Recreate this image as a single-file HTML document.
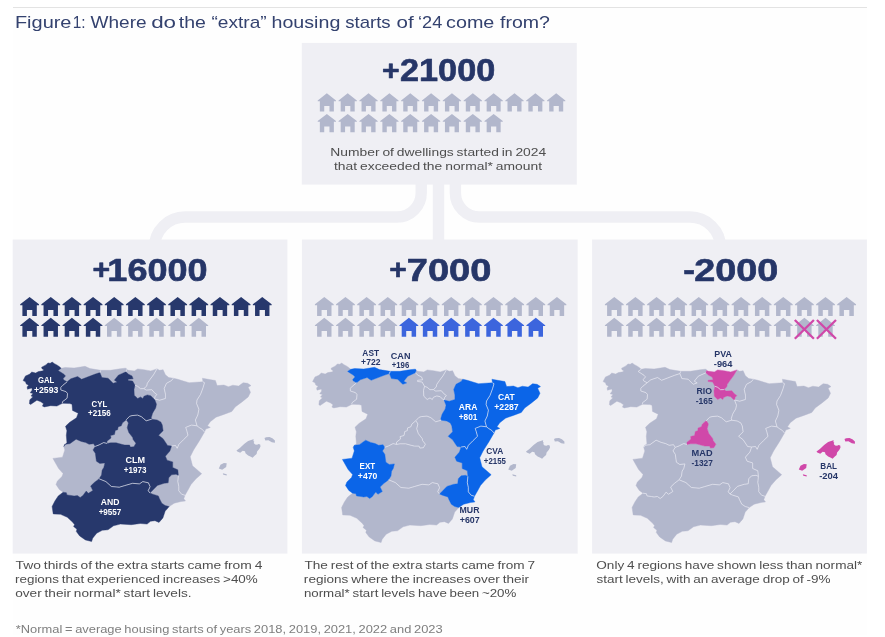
<!DOCTYPE html>
<html lang="en"><head><meta charset="utf-8"><title>Figure 1</title>
<style>
html,body{margin:0;padding:0;background:#fff;}
svg{display:block;font-family:"Liberation Sans",sans-serif;}
</style></head><body>
<svg width="885" height="637" viewBox="0 0 885 637">
<rect x="13" y="8" width="854" height="627" fill="#fefefe"/>
<rect x="13" y="7" width="854" height="1" fill="#e3e3e3"/>
<g fill="none" stroke="#efeff4" stroke-width="11.4">
<path d="M438.5,184 V241"/>
<path d="M421.2,184 V193 A24 24 0 0 1 397.2,217 H185 A30.5 30.5 0 0 0 154.5,247.5"/>
<path d="M455.4,184 V193 A24 24 0 0 0 479.4,217 H690 A30.5 30.5 0 0 1 720.5,247.5"/>
</g>
<rect x="301.8" y="42.9" width="275" height="141.7" fill="#efeff4"/>
<rect x="12.7" y="239.5" width="274.7" height="314.1" fill="#efeff4"/>
<rect x="301.9" y="239.5" width="275.8" height="314.1" fill="#efeff4"/>
<rect x="592.1" y="239.5" width="274.8" height="314.1" fill="#efeff4"/>
<text y="27.60" font-size="17.00" font-weight="normal" fill="#34426f"><tspan x="14.95" y="27.60" textLength="56.53" lengthAdjust="spacingAndGlyphs">Figure</tspan> <tspan x="72.64" y="27.60" textLength="12.87" lengthAdjust="spacingAndGlyphs">1:</tspan> <tspan x="90.60" y="27.60" textLength="56.01" lengthAdjust="spacingAndGlyphs">Where</tspan> <tspan x="151.15" y="27.60" textLength="24.90" lengthAdjust="spacingAndGlyphs">do</tspan> <tspan x="178.81" y="27.60" textLength="27.13" lengthAdjust="spacingAndGlyphs">the</tspan> <tspan x="211.48" y="27.60" textLength="55.22" lengthAdjust="spacingAndGlyphs">“extra”</tspan> <tspan x="271.52" y="27.60" textLength="68.81" lengthAdjust="spacingAndGlyphs">housing</tspan> <tspan x="345.19" y="27.60" textLength="45.46" lengthAdjust="spacingAndGlyphs">starts</tspan> <tspan x="396.63" y="27.60" textLength="17.15" lengthAdjust="spacingAndGlyphs">of</tspan> <tspan x="418.07" y="27.60" textLength="24.17" lengthAdjust="spacingAndGlyphs">‘24</tspan> <tspan x="446.06" y="27.60" textLength="48.29" lengthAdjust="spacingAndGlyphs">come</tspan> <tspan x="500.01" y="27.60" textLength="49.90" lengthAdjust="spacingAndGlyphs">from?</tspan></text>
<text y="81.30" font-size="31.20" font-weight="bold" fill="#263668" stroke="#263668" stroke-width="0.60" stroke-linejoin="round"><tspan x="382.12" y="79.60" font-size="28.50" textLength="17.64" lengthAdjust="spacingAndGlyphs">+</tspan><tspan x="400.00" y="81.30" textLength="95.30" lengthAdjust="spacingAndGlyphs">21000</tspan></text>
<text y="281.10" font-size="31.20" font-weight="bold" fill="#263668" stroke="#263668" stroke-width="0.60" stroke-linejoin="round"><tspan x="92.62" y="279.40" font-size="28.50" textLength="17.64" lengthAdjust="spacingAndGlyphs">+</tspan><tspan x="107.35" y="281.10" textLength="100.23" lengthAdjust="spacingAndGlyphs">16000</tspan></text>
<text y="281.10" font-size="31.20" font-weight="bold" fill="#263668" stroke="#263668" stroke-width="0.60" stroke-linejoin="round"><tspan x="389.33" y="279.40" font-size="28.50" textLength="17.52" lengthAdjust="spacingAndGlyphs">+</tspan><tspan x="406.78" y="281.10" textLength="84.62" lengthAdjust="spacingAndGlyphs">7000</tspan></text>
<text y="281.10" font-size="31.20" font-weight="bold" fill="#263668" stroke="#263668" stroke-width="0.60" stroke-linejoin="round"><tspan x="683.39" y="280.20" textLength="11.74" lengthAdjust="spacingAndGlyphs">-</tspan><tspan x="694.28" y="281.10" textLength="84.12" lengthAdjust="spacingAndGlyphs">2000</tspan></text>
<text x="330.36" y="155.90" font-size="11.20" font-weight="normal" fill="#4e4e4e" word-spacing="-0.78" textLength="215.84" lengthAdjust="spacingAndGlyphs">Number of dwellings started in 2024</text>
<text x="333.99" y="169.80" font-size="11.20" font-weight="normal" fill="#4e4e4e" word-spacing="-0.78" textLength="208.12" lengthAdjust="spacingAndGlyphs">that exceeded the normal* amount</text>
<polygon points="317.70,100.38 326.85,93.20 336.00,100.38 336.00,101.17 333.86,101.17 333.86,111.60 329.48,111.60 329.48,105.89 324.22,105.89 324.22,111.60 319.84,111.60 319.84,101.17 317.70,101.17" fill="#b2b7cc"/>
<polygon points="338.55,100.38 347.70,93.20 356.85,100.38 356.85,101.17 354.71,101.17 354.71,111.60 350.33,111.60 350.33,105.89 345.07,105.89 345.07,111.60 340.69,111.60 340.69,101.17 338.55,101.17" fill="#b2b7cc"/>
<polygon points="359.40,100.38 368.55,93.20 377.70,100.38 377.70,101.17 375.56,101.17 375.56,111.60 371.18,111.60 371.18,105.89 365.92,105.89 365.92,111.60 361.54,111.60 361.54,101.17 359.40,101.17" fill="#b2b7cc"/>
<polygon points="380.25,100.38 389.40,93.20 398.55,100.38 398.55,101.17 396.41,101.17 396.41,111.60 392.03,111.60 392.03,105.89 386.77,105.89 386.77,111.60 382.39,111.60 382.39,101.17 380.25,101.17" fill="#b2b7cc"/>
<polygon points="401.10,100.38 410.25,93.20 419.40,100.38 419.40,101.17 417.26,101.17 417.26,111.60 412.88,111.60 412.88,105.89 407.62,105.89 407.62,111.60 403.24,111.60 403.24,101.17 401.10,101.17" fill="#b2b7cc"/>
<polygon points="421.95,100.38 431.10,93.20 440.25,100.38 440.25,101.17 438.11,101.17 438.11,111.60 433.73,111.60 433.73,105.89 428.47,105.89 428.47,111.60 424.09,111.60 424.09,101.17 421.95,101.17" fill="#b2b7cc"/>
<polygon points="442.80,100.38 451.95,93.20 461.10,100.38 461.10,101.17 458.96,101.17 458.96,111.60 454.58,111.60 454.58,105.89 449.32,105.89 449.32,111.60 444.94,111.60 444.94,101.17 442.80,101.17" fill="#b2b7cc"/>
<polygon points="463.65,100.38 472.80,93.20 481.95,100.38 481.95,101.17 479.81,101.17 479.81,111.60 475.43,111.60 475.43,105.89 470.17,105.89 470.17,111.60 465.79,111.60 465.79,101.17 463.65,101.17" fill="#b2b7cc"/>
<polygon points="484.50,100.38 493.65,93.20 502.80,100.38 502.80,101.17 500.66,101.17 500.66,111.60 496.28,111.60 496.28,105.89 491.02,105.89 491.02,111.60 486.64,111.60 486.64,101.17 484.50,101.17" fill="#b2b7cc"/>
<polygon points="505.35,100.38 514.50,93.20 523.65,100.38 523.65,101.17 521.51,101.17 521.51,111.60 517.13,111.60 517.13,105.89 511.87,105.89 511.87,111.60 507.49,111.60 507.49,101.17 505.35,101.17" fill="#b2b7cc"/>
<polygon points="526.20,100.38 535.35,93.20 544.50,100.38 544.50,101.17 542.36,101.17 542.36,111.60 537.98,111.60 537.98,105.89 532.72,105.89 532.72,111.60 528.34,111.60 528.34,101.17 526.20,101.17" fill="#b2b7cc"/>
<polygon points="547.05,100.38 556.20,93.20 565.35,100.38 565.35,101.17 563.21,101.17 563.21,111.60 558.83,111.60 558.83,105.89 553.57,105.89 553.57,111.60 549.19,111.60 549.19,101.17 547.05,101.17" fill="#b2b7cc"/>
<polygon points="317.70,121.08 326.85,113.90 336.00,121.08 336.00,121.87 333.86,121.87 333.86,132.30 329.48,132.30 329.48,126.59 324.22,126.59 324.22,132.30 319.84,132.30 319.84,121.87 317.70,121.87" fill="#b2b7cc"/>
<polygon points="338.55,121.08 347.70,113.90 356.85,121.08 356.85,121.87 354.71,121.87 354.71,132.30 350.33,132.30 350.33,126.59 345.07,126.59 345.07,132.30 340.69,132.30 340.69,121.87 338.55,121.87" fill="#b2b7cc"/>
<polygon points="359.40,121.08 368.55,113.90 377.70,121.08 377.70,121.87 375.56,121.87 375.56,132.30 371.18,132.30 371.18,126.59 365.92,126.59 365.92,132.30 361.54,132.30 361.54,121.87 359.40,121.87" fill="#b2b7cc"/>
<polygon points="380.25,121.08 389.40,113.90 398.55,121.08 398.55,121.87 396.41,121.87 396.41,132.30 392.03,132.30 392.03,126.59 386.77,126.59 386.77,132.30 382.39,132.30 382.39,121.87 380.25,121.87" fill="#b2b7cc"/>
<polygon points="401.10,121.08 410.25,113.90 419.40,121.08 419.40,121.87 417.26,121.87 417.26,132.30 412.88,132.30 412.88,126.59 407.62,126.59 407.62,132.30 403.24,132.30 403.24,121.87 401.10,121.87" fill="#b2b7cc"/>
<polygon points="421.95,121.08 431.10,113.90 440.25,121.08 440.25,121.87 438.11,121.87 438.11,132.30 433.73,132.30 433.73,126.59 428.47,126.59 428.47,132.30 424.09,132.30 424.09,121.87 421.95,121.87" fill="#b2b7cc"/>
<polygon points="442.80,121.08 451.95,113.90 461.10,121.08 461.10,121.87 458.96,121.87 458.96,132.30 454.58,132.30 454.58,126.59 449.32,126.59 449.32,132.30 444.94,132.30 444.94,121.87 442.80,121.87" fill="#b2b7cc"/>
<polygon points="463.65,121.08 472.80,113.90 481.95,121.08 481.95,121.87 479.81,121.87 479.81,132.30 475.43,132.30 475.43,126.59 470.17,126.59 470.17,132.30 465.79,132.30 465.79,121.87 463.65,121.87" fill="#b2b7cc"/>
<polygon points="484.50,121.08 493.65,113.90 502.80,121.08 502.80,121.87 500.66,121.87 500.66,132.30 496.28,132.30 496.28,126.59 491.02,126.59 491.02,132.30 486.64,132.30 486.64,121.87 484.50,121.87" fill="#b2b7cc"/>
<polygon points="20.20,304.32 29.60,296.90 39.00,304.32 39.00,305.13 36.80,305.13 36.80,315.90 32.30,315.90 32.30,310.01 26.90,310.01 26.90,315.90 22.40,315.90 22.40,305.13 20.20,305.13" fill="#27386c"/>
<polygon points="41.35,304.32 50.75,296.90 60.15,304.32 60.15,305.13 57.95,305.13 57.95,315.90 53.45,315.90 53.45,310.01 48.05,310.01 48.05,315.90 43.55,315.90 43.55,305.13 41.35,305.13" fill="#27386c"/>
<polygon points="62.50,304.32 71.90,296.90 81.30,304.32 81.30,305.13 79.10,305.13 79.10,315.90 74.60,315.90 74.60,310.01 69.20,310.01 69.20,315.90 64.70,315.90 64.70,305.13 62.50,305.13" fill="#27386c"/>
<polygon points="83.65,304.32 93.05,296.90 102.45,304.32 102.45,305.13 100.25,305.13 100.25,315.90 95.75,315.90 95.75,310.01 90.35,310.01 90.35,315.90 85.85,315.90 85.85,305.13 83.65,305.13" fill="#27386c"/>
<polygon points="104.80,304.32 114.20,296.90 123.60,304.32 123.60,305.13 121.40,305.13 121.40,315.90 116.90,315.90 116.90,310.01 111.50,310.01 111.50,315.90 107.00,315.90 107.00,305.13 104.80,305.13" fill="#27386c"/>
<polygon points="125.95,304.32 135.35,296.90 144.75,304.32 144.75,305.13 142.55,305.13 142.55,315.90 138.05,315.90 138.05,310.01 132.65,310.01 132.65,315.90 128.15,315.90 128.15,305.13 125.95,305.13" fill="#27386c"/>
<polygon points="147.10,304.32 156.50,296.90 165.90,304.32 165.90,305.13 163.70,305.13 163.70,315.90 159.20,315.90 159.20,310.01 153.80,310.01 153.80,315.90 149.30,315.90 149.30,305.13 147.10,305.13" fill="#27386c"/>
<polygon points="168.25,304.32 177.65,296.90 187.05,304.32 187.05,305.13 184.85,305.13 184.85,315.90 180.35,315.90 180.35,310.01 174.95,310.01 174.95,315.90 170.45,315.90 170.45,305.13 168.25,305.13" fill="#27386c"/>
<polygon points="189.40,304.32 198.80,296.90 208.20,304.32 208.20,305.13 206.00,305.13 206.00,315.90 201.50,315.90 201.50,310.01 196.10,310.01 196.10,315.90 191.60,315.90 191.60,305.13 189.40,305.13" fill="#27386c"/>
<polygon points="210.55,304.32 219.95,296.90 229.35,304.32 229.35,305.13 227.15,305.13 227.15,315.90 222.65,315.90 222.65,310.01 217.25,310.01 217.25,315.90 212.75,315.90 212.75,305.13 210.55,305.13" fill="#27386c"/>
<polygon points="231.70,304.32 241.10,296.90 250.50,304.32 250.50,305.13 248.30,305.13 248.30,315.90 243.80,315.90 243.80,310.01 238.40,310.01 238.40,315.90 233.90,315.90 233.90,305.13 231.70,305.13" fill="#27386c"/>
<polygon points="252.85,304.32 262.25,296.90 271.65,304.32 271.65,305.13 269.45,305.13 269.45,315.90 264.95,315.90 264.95,310.01 259.55,310.01 259.55,315.90 255.05,315.90 255.05,305.13 252.85,305.13" fill="#27386c"/>
<polygon points="20.20,325.22 29.60,317.80 39.00,325.22 39.00,326.03 36.80,326.03 36.80,336.80 32.30,336.80 32.30,330.91 26.90,330.91 26.90,336.80 22.40,336.80 22.40,326.03 20.20,326.03" fill="#27386c"/>
<polygon points="41.35,325.22 50.75,317.80 60.15,325.22 60.15,326.03 57.95,326.03 57.95,336.80 53.45,336.80 53.45,330.91 48.05,330.91 48.05,336.80 43.55,336.80 43.55,326.03 41.35,326.03" fill="#27386c"/>
<polygon points="62.50,325.22 71.90,317.80 81.30,325.22 81.30,326.03 79.10,326.03 79.10,336.80 74.60,336.80 74.60,330.91 69.20,330.91 69.20,336.80 64.70,336.80 64.70,326.03 62.50,326.03" fill="#27386c"/>
<polygon points="83.65,325.22 93.05,317.80 102.45,325.22 102.45,326.03 100.25,326.03 100.25,336.80 95.75,336.80 95.75,330.91 90.35,330.91 90.35,336.80 85.85,336.80 85.85,326.03 83.65,326.03" fill="#27386c"/>
<polygon points="104.80,325.22 114.20,317.80 123.60,325.22 123.60,326.03 121.40,326.03 121.40,336.80 116.90,336.80 116.90,330.91 111.50,330.91 111.50,336.80 107.00,336.80 107.00,326.03 104.80,326.03" fill="#b2b7cc"/>
<polygon points="125.95,325.22 135.35,317.80 144.75,325.22 144.75,326.03 142.55,326.03 142.55,336.80 138.05,336.80 138.05,330.91 132.65,330.91 132.65,336.80 128.15,336.80 128.15,326.03 125.95,326.03" fill="#b2b7cc"/>
<polygon points="147.10,325.22 156.50,317.80 165.90,325.22 165.90,326.03 163.70,326.03 163.70,336.80 159.20,336.80 159.20,330.91 153.80,330.91 153.80,336.80 149.30,336.80 149.30,326.03 147.10,326.03" fill="#b2b7cc"/>
<polygon points="168.25,325.22 177.65,317.80 187.05,325.22 187.05,326.03 184.85,326.03 184.85,336.80 180.35,336.80 180.35,330.91 174.95,330.91 174.95,336.80 170.45,336.80 170.45,326.03 168.25,326.03" fill="#b2b7cc"/>
<polygon points="189.40,325.22 198.80,317.80 208.20,325.22 208.20,326.03 206.00,326.03 206.00,336.80 201.50,336.80 201.50,330.91 196.10,330.91 196.10,336.80 191.60,336.80 191.60,326.03 189.40,326.03" fill="#b2b7cc"/>
<polygon points="314.90,304.32 324.30,296.90 333.70,304.32 333.70,305.13 331.50,305.13 331.50,315.90 327.00,315.90 327.00,310.01 321.60,310.01 321.60,315.90 317.10,315.90 317.10,305.13 314.90,305.13" fill="#b2b7cc"/>
<polygon points="336.05,304.32 345.45,296.90 354.85,304.32 354.85,305.13 352.65,305.13 352.65,315.90 348.15,315.90 348.15,310.01 342.75,310.01 342.75,315.90 338.25,315.90 338.25,305.13 336.05,305.13" fill="#b2b7cc"/>
<polygon points="357.20,304.32 366.60,296.90 376.00,304.32 376.00,305.13 373.80,305.13 373.80,315.90 369.30,315.90 369.30,310.01 363.90,310.01 363.90,315.90 359.40,315.90 359.40,305.13 357.20,305.13" fill="#b2b7cc"/>
<polygon points="378.35,304.32 387.75,296.90 397.15,304.32 397.15,305.13 394.95,305.13 394.95,315.90 390.45,315.90 390.45,310.01 385.05,310.01 385.05,315.90 380.55,315.90 380.55,305.13 378.35,305.13" fill="#b2b7cc"/>
<polygon points="399.50,304.32 408.90,296.90 418.30,304.32 418.30,305.13 416.10,305.13 416.10,315.90 411.60,315.90 411.60,310.01 406.20,310.01 406.20,315.90 401.70,315.90 401.70,305.13 399.50,305.13" fill="#b2b7cc"/>
<polygon points="420.65,304.32 430.05,296.90 439.45,304.32 439.45,305.13 437.25,305.13 437.25,315.90 432.75,315.90 432.75,310.01 427.35,310.01 427.35,315.90 422.85,315.90 422.85,305.13 420.65,305.13" fill="#b2b7cc"/>
<polygon points="441.80,304.32 451.20,296.90 460.60,304.32 460.60,305.13 458.40,305.13 458.40,315.90 453.90,315.90 453.90,310.01 448.50,310.01 448.50,315.90 444.00,315.90 444.00,305.13 441.80,305.13" fill="#b2b7cc"/>
<polygon points="462.95,304.32 472.35,296.90 481.75,304.32 481.75,305.13 479.55,305.13 479.55,315.90 475.05,315.90 475.05,310.01 469.65,310.01 469.65,315.90 465.15,315.90 465.15,305.13 462.95,305.13" fill="#b2b7cc"/>
<polygon points="484.10,304.32 493.50,296.90 502.90,304.32 502.90,305.13 500.70,305.13 500.70,315.90 496.20,315.90 496.20,310.01 490.80,310.01 490.80,315.90 486.30,315.90 486.30,305.13 484.10,305.13" fill="#b2b7cc"/>
<polygon points="505.25,304.32 514.65,296.90 524.05,304.32 524.05,305.13 521.85,305.13 521.85,315.90 517.35,315.90 517.35,310.01 511.95,310.01 511.95,315.90 507.45,315.90 507.45,305.13 505.25,305.13" fill="#b2b7cc"/>
<polygon points="526.40,304.32 535.80,296.90 545.20,304.32 545.20,305.13 543.00,305.13 543.00,315.90 538.50,315.90 538.50,310.01 533.10,310.01 533.10,315.90 528.60,315.90 528.60,305.13 526.40,305.13" fill="#b2b7cc"/>
<polygon points="547.55,304.32 556.95,296.90 566.35,304.32 566.35,305.13 564.15,305.13 564.15,315.90 559.65,315.90 559.65,310.01 554.25,310.01 554.25,315.90 549.75,315.90 549.75,305.13 547.55,305.13" fill="#b2b7cc"/>
<polygon points="314.90,325.22 324.30,317.80 333.70,325.22 333.70,326.03 331.50,326.03 331.50,336.80 327.00,336.80 327.00,330.91 321.60,330.91 321.60,336.80 317.10,336.80 317.10,326.03 314.90,326.03" fill="#b2b7cc"/>
<polygon points="336.05,325.22 345.45,317.80 354.85,325.22 354.85,326.03 352.65,326.03 352.65,336.80 348.15,336.80 348.15,330.91 342.75,330.91 342.75,336.80 338.25,336.80 338.25,326.03 336.05,326.03" fill="#b2b7cc"/>
<polygon points="357.20,325.22 366.60,317.80 376.00,325.22 376.00,326.03 373.80,326.03 373.80,336.80 369.30,336.80 369.30,330.91 363.90,330.91 363.90,336.80 359.40,336.80 359.40,326.03 357.20,326.03" fill="#b2b7cc"/>
<polygon points="378.35,325.22 387.75,317.80 397.15,325.22 397.15,326.03 394.95,326.03 394.95,336.80 390.45,336.80 390.45,330.91 385.05,330.91 385.05,336.80 380.55,336.80 380.55,326.03 378.35,326.03" fill="#b2b7cc"/>
<polygon points="399.50,325.22 408.90,317.80 418.30,325.22 418.30,326.03 416.10,326.03 416.10,336.80 411.60,336.80 411.60,330.91 406.20,330.91 406.20,336.80 401.70,336.80 401.70,326.03 399.50,326.03" fill="#3c65dd"/>
<polygon points="420.65,325.22 430.05,317.80 439.45,325.22 439.45,326.03 437.25,326.03 437.25,336.80 432.75,336.80 432.75,330.91 427.35,330.91 427.35,336.80 422.85,336.80 422.85,326.03 420.65,326.03" fill="#3c65dd"/>
<polygon points="441.80,325.22 451.20,317.80 460.60,325.22 460.60,326.03 458.40,326.03 458.40,336.80 453.90,336.80 453.90,330.91 448.50,330.91 448.50,336.80 444.00,336.80 444.00,326.03 441.80,326.03" fill="#3c65dd"/>
<polygon points="462.95,325.22 472.35,317.80 481.75,325.22 481.75,326.03 479.55,326.03 479.55,336.80 475.05,336.80 475.05,330.91 469.65,330.91 469.65,336.80 465.15,336.80 465.15,326.03 462.95,326.03" fill="#3c65dd"/>
<polygon points="484.10,325.22 493.50,317.80 502.90,325.22 502.90,326.03 500.70,326.03 500.70,336.80 496.20,336.80 496.20,330.91 490.80,330.91 490.80,336.80 486.30,336.80 486.30,326.03 484.10,326.03" fill="#3c65dd"/>
<polygon points="505.25,325.22 514.65,317.80 524.05,325.22 524.05,326.03 521.85,326.03 521.85,336.80 517.35,336.80 517.35,330.91 511.95,330.91 511.95,336.80 507.45,336.80 507.45,326.03 505.25,326.03" fill="#3c65dd"/>
<polygon points="526.40,325.22 535.80,317.80 545.20,325.22 545.20,326.03 543.00,326.03 543.00,336.80 538.50,336.80 538.50,330.91 533.10,330.91 533.10,336.80 528.60,336.80 528.60,326.03 526.40,326.03" fill="#3c65dd"/>
<polygon points="604.90,304.32 614.30,296.90 623.70,304.32 623.70,305.13 621.50,305.13 621.50,315.90 617.00,315.90 617.00,310.01 611.60,310.01 611.60,315.90 607.10,315.90 607.10,305.13 604.90,305.13" fill="#b2b7cc"/>
<polygon points="626.02,304.32 635.42,296.90 644.82,304.32 644.82,305.13 642.62,305.13 642.62,315.90 638.12,315.90 638.12,310.01 632.72,310.01 632.72,315.90 628.22,315.90 628.22,305.13 626.02,305.13" fill="#b2b7cc"/>
<polygon points="647.14,304.32 656.54,296.90 665.94,304.32 665.94,305.13 663.74,305.13 663.74,315.90 659.24,315.90 659.24,310.01 653.84,310.01 653.84,315.90 649.34,315.90 649.34,305.13 647.14,305.13" fill="#b2b7cc"/>
<polygon points="668.26,304.32 677.66,296.90 687.06,304.32 687.06,305.13 684.86,305.13 684.86,315.90 680.36,315.90 680.36,310.01 674.96,310.01 674.96,315.90 670.46,315.90 670.46,305.13 668.26,305.13" fill="#b2b7cc"/>
<polygon points="689.38,304.32 698.78,296.90 708.18,304.32 708.18,305.13 705.98,305.13 705.98,315.90 701.48,315.90 701.48,310.01 696.08,310.01 696.08,315.90 691.58,315.90 691.58,305.13 689.38,305.13" fill="#b2b7cc"/>
<polygon points="710.50,304.32 719.90,296.90 729.30,304.32 729.30,305.13 727.10,305.13 727.10,315.90 722.60,315.90 722.60,310.01 717.20,310.01 717.20,315.90 712.70,315.90 712.70,305.13 710.50,305.13" fill="#b2b7cc"/>
<polygon points="731.62,304.32 741.02,296.90 750.42,304.32 750.42,305.13 748.22,305.13 748.22,315.90 743.72,315.90 743.72,310.01 738.32,310.01 738.32,315.90 733.82,315.90 733.82,305.13 731.62,305.13" fill="#b2b7cc"/>
<polygon points="752.74,304.32 762.14,296.90 771.54,304.32 771.54,305.13 769.34,305.13 769.34,315.90 764.84,315.90 764.84,310.01 759.44,310.01 759.44,315.90 754.94,315.90 754.94,305.13 752.74,305.13" fill="#b2b7cc"/>
<polygon points="773.86,304.32 783.26,296.90 792.66,304.32 792.66,305.13 790.46,305.13 790.46,315.90 785.96,315.90 785.96,310.01 780.56,310.01 780.56,315.90 776.06,315.90 776.06,305.13 773.86,305.13" fill="#b2b7cc"/>
<polygon points="794.98,304.32 804.38,296.90 813.78,304.32 813.78,305.13 811.58,305.13 811.58,315.90 807.08,315.90 807.08,310.01 801.68,310.01 801.68,315.90 797.18,315.90 797.18,305.13 794.98,305.13" fill="#b2b7cc"/>
<polygon points="816.10,304.32 825.50,296.90 834.90,304.32 834.90,305.13 832.70,305.13 832.70,315.90 828.20,315.90 828.20,310.01 822.80,310.01 822.80,315.90 818.30,315.90 818.30,305.13 816.10,305.13" fill="#b2b7cc"/>
<polygon points="837.22,304.32 846.62,296.90 856.02,304.32 856.02,305.13 853.82,305.13 853.82,315.90 849.32,315.90 849.32,310.01 843.92,310.01 843.92,315.90 839.42,315.90 839.42,305.13 837.22,305.13" fill="#b2b7cc"/>
<polygon points="604.90,325.22 614.30,317.80 623.70,325.22 623.70,326.03 621.50,326.03 621.50,336.80 617.00,336.80 617.00,330.91 611.60,330.91 611.60,336.80 607.10,336.80 607.10,326.03 604.90,326.03" fill="#b2b7cc"/>
<polygon points="626.02,325.22 635.42,317.80 644.82,325.22 644.82,326.03 642.62,326.03 642.62,336.80 638.12,336.80 638.12,330.91 632.72,330.91 632.72,336.80 628.22,336.80 628.22,326.03 626.02,326.03" fill="#b2b7cc"/>
<polygon points="647.14,325.22 656.54,317.80 665.94,325.22 665.94,326.03 663.74,326.03 663.74,336.80 659.24,336.80 659.24,330.91 653.84,330.91 653.84,336.80 649.34,336.80 649.34,326.03 647.14,326.03" fill="#b2b7cc"/>
<polygon points="668.26,325.22 677.66,317.80 687.06,325.22 687.06,326.03 684.86,326.03 684.86,336.80 680.36,336.80 680.36,330.91 674.96,330.91 674.96,336.80 670.46,336.80 670.46,326.03 668.26,326.03" fill="#b2b7cc"/>
<polygon points="689.38,325.22 698.78,317.80 708.18,325.22 708.18,326.03 705.98,326.03 705.98,336.80 701.48,336.80 701.48,330.91 696.08,330.91 696.08,336.80 691.58,336.80 691.58,326.03 689.38,326.03" fill="#b2b7cc"/>
<polygon points="710.50,325.22 719.90,317.80 729.30,325.22 729.30,326.03 727.10,326.03 727.10,336.80 722.60,336.80 722.60,330.91 717.20,330.91 717.20,336.80 712.70,336.80 712.70,326.03 710.50,326.03" fill="#b2b7cc"/>
<polygon points="731.62,325.22 741.02,317.80 750.42,325.22 750.42,326.03 748.22,326.03 748.22,336.80 743.72,336.80 743.72,330.91 738.32,330.91 738.32,336.80 733.82,336.80 733.82,326.03 731.62,326.03" fill="#b2b7cc"/>
<polygon points="752.74,325.22 762.14,317.80 771.54,325.22 771.54,326.03 769.34,326.03 769.34,336.80 764.84,336.80 764.84,330.91 759.44,330.91 759.44,336.80 754.94,336.80 754.94,326.03 752.74,326.03" fill="#b2b7cc"/>
<polygon points="773.86,325.22 783.26,317.80 792.66,325.22 792.66,326.03 790.46,326.03 790.46,336.80 785.96,336.80 785.96,330.91 780.56,330.91 780.56,336.80 776.06,336.80 776.06,326.03 773.86,326.03" fill="#b2b7cc"/>
<polygon points="794.98,325.22 804.38,317.80 813.78,325.22 813.78,326.03 811.58,326.03 811.58,336.80 807.08,336.80 807.08,330.91 801.68,330.91 801.68,336.80 797.18,336.80 797.18,326.03 794.98,326.03" fill="#b2b7cc"/>
<polygon points="816.10,325.22 825.50,317.80 834.90,325.22 834.90,326.03 832.70,326.03 832.70,336.80 828.20,336.80 828.20,330.91 822.80,330.91 822.80,336.80 818.30,336.80 818.30,326.03 816.10,326.03" fill="#b2b7cc"/>
<path d="M794.8,320.0 L813.9,338.7 M813.9,320.0 L794.8,338.7" stroke="#d048a9" stroke-width="2.3" fill="none"/>
<path d="M816.9,320.0 L836.0,338.7 M836.0,320.0 L816.9,338.7" stroke="#d048a9" stroke-width="2.3" fill="none"/>
<g transform="translate(20.0,359.0)">
<path d="M41.2,9.3 L45.2,8.5 L54.2,9.0 L65.0,7.3 L70.0,9.6 L80.8,11.3 L79.9,13.6 L74.6,15.3 L61.6,20.3 L57.6,17.5 L50.8,19.8 L47.1,22.8 L43.6,20.8 L43.2,19.6 L45.5,16.9 L44.0,15.3 L38.1,11.4Z" fill="#b2b7cc" stroke="#b2b7cc" stroke-width="0.4"/>
<path d="M80.8,11.3 L90.4,11.3 L100.0,9.8 L105.0,9.2 L106.2,9.3 L106.6,10.6 L105.9,12.8 L98.3,16.2 L94.3,21.2 L97.2,22.9 L93.2,24.3 L88.1,19.2 L81.9,18.6 L79.9,13.6Z" fill="#b2b7cc" stroke="#b2b7cc" stroke-width="0.4"/>
<path d="M106.6,10.6 L108.6,11.3 L114.3,11.9 L117.7,9.9 L123.9,10.7 L130.7,11.9 L136.9,9.9 L133.5,15.8 L130.1,20.3 L127.3,24.3 L126.7,27.1 L123.9,29.6 L120.5,29.7 L117.7,27.3 L115.0,26.3 L112.6,22.0 L108.1,21.5 L108.1,20.3 L113.2,19.8 L112.0,16.9 L108.6,15.3 L105.9,12.8Z" fill="#b2b7cc" stroke="#b2b7cc" stroke-width="0.4"/>
<path d="M123.9,29.6 L126.2,31.1 L131.8,30.7 L134.6,33.9 L136.9,35.6 L135.2,37.3 L134.5,40.0 L133.5,39.5 L130.7,36.7 L127.3,35.9 L123.9,37.3 L122.8,39.5 L120.5,37.9 L117.7,39.5 L114.3,36.2 L114.0,30.5 L115.0,26.3 L117.7,27.3 L120.5,29.7Z" fill="#b2b7cc" stroke="#b2b7cc" stroke-width="0.4"/>
<path d="M136.9,9.9 L139.7,11.3 L143.1,10.7 L145.4,15.8 L148.8,18.6 L153.3,19.2 L151.6,21.5 L146.5,24.3 L144.2,29.4 L145.4,35.0 L145.4,39.5 L139.7,41.2 L134.5,40.0 L135.2,37.3 L136.9,35.6 L134.6,33.9 L131.8,30.7 L126.2,31.1 L123.9,29.6 L126.7,27.1 L127.3,24.3 L130.1,20.3 L133.5,15.8Z" fill="#b2b7cc" stroke="#b2b7cc" stroke-width="0.4"/>
<path d="M153.3,19.2 L157.8,20.3 L163.4,22.0 L169.1,23.7 L175.9,23.2 L183.0,22.8 L184.5,23.7 L183.0,28.8 L180.5,35.5 L177.0,41.0 L176.6,44.6 L178.9,50.2 L177.8,56.0 L175.4,61.0 L177.0,66.8 L171.4,66.1 L165.7,68.4 L166.8,71.8 L168.0,76.3 L163.4,80.8 L158.9,85.3 L157.2,89.3 L155.5,86.5 L151.6,87.0 L147.6,86.5 L143.1,79.7 L138.6,76.3 L143.1,71.8 L142.3,66.0 L140.8,62.9 L137.2,61.0 L131.7,60.2 L131.3,58.6 L132.5,54.5 L133.3,52.9 L135.7,49.0 L136.5,45.2 L134.5,40.0 L139.7,41.2 L145.4,39.5 L145.4,35.0 L144.2,29.4 L146.5,24.3 L151.6,21.5Z" fill="#b2b7cc" stroke="#b2b7cc" stroke-width="0.4"/>
<path d="M183.0,22.8 L182.4,19.2 L188.1,20.3 L195.4,21.5 L197.1,26.6 L203.9,26.0 L208.4,27.7 L212.9,26.2 L218.6,27.1 L223.1,23.7 L227.6,24.3 L231.0,26.6 L228.2,28.2 L230.5,33.3 L228.2,37.9 L222.0,42.9 L215.2,48.0 L211.8,52.5 L203.9,55.4 L196.0,58.2 L190.3,62.7 L187.5,66.7 L190.3,68.4 L185.8,70.1 L184.5,73.0 L182.4,70.5 L179.2,68.5 L177.0,66.8 L175.4,61.0 L177.8,56.0 L178.9,50.2 L176.6,44.6 L177.0,41.0 L180.5,35.5 L183.0,28.8 L184.5,23.7Z" fill="#b2b7cc" stroke="#b2b7cc" stroke-width="0.4"/>
<path d="M177.0,66.8 L179.2,68.5 L182.4,70.5 L184.5,73.0 L179.3,81.9 L173.6,91.0 L170.2,97.8 L172.5,106.8 L181.7,114.7 L175.8,120.0 L171.0,125.5 L168.0,131.0 L165.0,136.3 L161.6,135.2 L158.8,131.8 L158.8,127.3 L157.8,122.6 L158.4,116.4 L157.8,110.8 L152.7,108.5 L152.7,102.9 L147.1,101.2 L145.4,97.2 L149.9,92.1 L151.6,87.0 L155.5,86.5 L157.2,89.3 L158.9,85.3 L163.4,80.8 L168.0,76.3 L166.8,71.8 L165.7,68.4 L171.4,66.1Z" fill="#b2b7cc" stroke="#b2b7cc" stroke-width="0.4"/>
<path d="M165.0,136.3 L163.8,139.7 L165.5,141.9 L161.0,142.5 L154.2,144.2 L149.2,147.6 L145.2,146.5 L141.8,144.2 L139.5,139.7 L138.4,136.9 L132.8,135.2 L130.0,134.0 L133.9,130.1 L137.4,126.4 L144.2,124.3 L148.2,123.8 L148.8,118.7 L151.6,115.8 L156.1,115.3 L158.4,116.4 L157.8,122.6 L158.8,127.3 L158.8,131.8 L161.6,135.2Z" fill="#b2b7cc" stroke="#b2b7cc" stroke-width="0.4"/>
<path d="M43.8,87.5 L44.8,90.9 L42.5,98.2 L32.9,99.4 L38.6,109.5 L43.1,114.6 L42.0,117.5 L37.4,122.0 L36.0,125.5 L39.3,130.4 L43.1,133.2 L46.4,133.7 L47.0,135.9 L51.4,136.5 L54.1,137.0 L57.4,136.5 L60.2,138.5 L62.9,136.5 L66.2,132.1 L68.4,134.3 L72.8,131.5 L70.6,127.1 L74.5,123.3 L77.0,121.4 L79.1,119.8 L81.5,116.0 L82.1,111.2 L83.8,108.4 L84.9,103.9 L79.8,104.5 L76.4,102.2 L75.3,94.3 L73.0,90.9 L75.2,87.4 L73.6,84.7 L69.1,85.3 L65.7,83.6 L61.2,82.4 L56.1,80.2 L49.9,84.7 L44.8,85.3Z" fill="#b2b7cc" stroke="#b2b7cc" stroke-width="0.4"/>
<path d="M106.2,60.8 L102.4,64.0 L101.3,66.8 L98.1,67.9 L97.7,70.7 L95.3,71.5 L94.5,75.5 L90.6,76.6 L91.0,79.0 L87.0,82.2 L87.0,84.4 L90.6,83.8 L96.1,83.8 L101.6,85.3 L104.8,86.1 L109.6,86.1 L110.4,88.1 L113.9,87.7 L115.9,84.2 L113.1,80.6 L112.7,78.6 L108.8,73.5 L107.2,68.7 L108.4,64.0 L107.2,62.0Z" fill="#b2b7cc" stroke="#b2b7cc" stroke-width="0.4"/>
<path d="M41.2,9.3 L39.2,7.5 L36.9,5.9 L34.5,4.7 L32.2,3.1 L30.2,4.3 L27.9,3.9 L25.9,5.9 L21.6,8.2 L22.0,9.8 L23.5,10.6 L23.2,11.8 L18.4,12.6 L15.7,14.1 L11.8,13.0 L9.4,15.3 L5.5,16.9 L4.3,19.2 L3.1,21.6 L5.5,22.8 L6.3,25.1 L8.6,26.3 L7.1,27.9 L7.5,30.2 L11.8,29.0 L12.2,31.0 L10.2,33.8 L13.0,34.5 L11.0,36.9 L13.0,37.7 L9.8,40.8 L9.4,44.7 L10.6,45.5 L16.9,41.2 L20.8,42.8 L23.5,44.7 L22.4,47.1 L24.3,47.9 L30.6,46.7 L36.9,47.1 L42.4,44.3 L42.4,42.8 L47.1,39.2 L47.5,34.5 L45.9,32.6 L40.8,31.0 L40.8,28.3 L42.8,26.3 L47.1,22.8 L43.6,20.8 L43.2,19.6 L45.5,16.9 L44.0,15.3 L38.1,11.4Z" fill="#27386c" stroke="#27386c" stroke-width="0.4"/>
<path d="M149.2,147.6 L145.2,152.1 L142.9,158.9 L139.0,163.4 L135.0,161.7 L130.5,162.3 L127.1,165.1 L120.3,164.5 L111.3,165.7 L100.4,165.1 L93.6,166.8 L88.0,170.8 L82.3,171.3 L76.7,174.2 L72.7,179.2 L71.6,182.6 L65.4,180.9 L59.7,177.0 L56.3,172.5 L56.9,170.2 L53.5,167.4 L54.6,165.7 L52.9,163.4 L47.3,158.3 L40.5,155.3 L33.2,154.9 L32.1,147.5 L34.9,142.0 L38.2,137.0 L43.1,133.2 L46.4,133.7 L47.0,135.9 L51.4,136.5 L54.1,137.0 L57.4,136.5 L60.2,138.5 L62.9,136.5 L66.2,132.1 L68.4,134.3 L72.8,131.5 L70.6,127.1 L74.5,123.3 L77.0,121.4 L79.1,119.8 L85.9,122.6 L91.4,127.5 L99.3,128.2 L104.7,126.6 L112.6,124.3 L119.4,124.9 L122.8,122.6 L128.4,123.8 L130.1,127.7 L128.2,131.7 L130.0,134.0 L132.8,135.2 L138.4,136.9 L139.5,139.7 L141.8,144.2 L145.2,146.5Z" fill="#27386c" stroke="#27386c" stroke-width="0.4"/>
<path d="M131.7,60.2 L126.2,61.8 L123.5,59.5 L121.4,57.7 L117.5,56.1 L112.0,56.6 L109.6,57.3 L106.2,60.8 L107.2,62.0 L108.4,64.0 L107.2,68.7 L108.8,73.5 L112.7,78.6 L113.1,80.6 L115.9,84.2 L113.9,87.7 L110.4,88.1 L109.6,86.1 L104.8,86.1 L101.6,85.3 L96.1,83.8 L90.6,83.8 L87.0,84.4 L83.6,83.6 L79.1,85.9 L75.2,87.4 L73.0,90.9 L75.3,94.3 L76.4,102.2 L79.8,104.5 L84.9,103.9 L83.8,108.4 L82.1,111.2 L81.5,116.0 L79.1,119.8 L85.9,122.6 L91.4,127.5 L99.3,128.2 L104.7,126.6 L112.6,124.3 L119.4,124.9 L122.8,122.6 L128.4,123.8 L130.1,127.7 L128.2,131.7 L130.0,134.0 L133.9,130.1 L137.4,126.4 L144.2,124.3 L148.2,123.8 L148.8,118.7 L151.6,115.8 L156.1,115.3 L158.4,116.4 L157.8,110.8 L152.7,108.5 L152.7,102.9 L147.1,101.2 L145.4,97.2 L149.9,92.1 L151.6,87.0 L147.6,86.5 L143.1,79.7 L138.6,76.3 L143.1,71.8 L142.3,66.0 L140.8,62.9 L137.2,61.0Z" fill="#27386c" stroke="#27386c" stroke-width="0.4"/>
<path d="M42.4,44.3 L42.4,42.8 L47.1,39.2 L47.5,34.5 L45.9,32.6 L40.8,31.0 L40.8,28.3 L42.8,26.3 L47.1,22.8 L50.8,19.8 L57.6,17.5 L61.6,20.3 L74.6,15.3 L79.9,13.6 L81.9,18.6 L88.1,19.2 L93.2,24.3 L97.2,22.9 L94.3,21.2 L98.3,16.2 L105.9,12.8 L108.6,15.3 L112.0,16.9 L113.2,19.8 L108.1,20.3 L108.1,21.5 L112.6,22.0 L115.0,26.3 L114.0,30.5 L114.3,36.2 L117.7,39.5 L120.5,37.9 L122.8,39.5 L123.9,37.3 L127.3,35.9 L130.7,36.7 L133.5,39.5 L134.5,40.0 L136.5,45.2 L135.7,49.0 L133.3,52.9 L132.5,54.5 L131.3,58.6 L131.7,60.2 L126.2,61.8 L123.5,59.5 L121.4,57.7 L117.5,56.1 L112.0,56.6 L109.6,57.3 L106.2,60.8 L102.4,64.0 L101.3,66.8 L98.1,67.9 L97.7,70.7 L95.3,71.5 L94.5,75.5 L90.6,76.6 L91.0,79.0 L87.0,82.2 L87.0,84.4 L83.6,83.6 L79.1,85.9 L75.2,87.4 L73.6,84.7 L69.1,85.3 L65.7,83.6 L61.2,82.4 L56.1,80.2 L49.9,84.7 L44.8,85.3 L43.8,87.5 L46.9,83.6 L46.3,76.3 L46.9,71.8 L45.5,67.3 L49.7,63.3 L56.5,58.8 L58.2,54.2 L52.5,51.4 L52.0,45.2 L49.7,44.6Z" fill="#27386c" stroke="#27386c" stroke-width="0.4"/>
<path d="M216.5,91.5 L219.9,88.9 L224.1,85.0 L228.1,82.1 L232.6,80.5 L233.7,80.2 L233.4,82.1 L234.3,82.7 L233.7,84.1 L235.1,85.5 L237.1,85.8 L238.5,85.0 L240.2,85.5 L240.5,87.5 L239.4,89.8 L237.1,92.6 L236.6,94.9 L234.3,97.1 L232.6,98.8 L230.9,97.7 L228.1,96.6 L225.5,94.3 L225.0,92.3 L222.7,91.8 L220.2,93.7 L217.3,92.6Z" fill="#b2b7cc"/>
<path d="M244.5,79.0 L246.2,78.2 L249.5,77.9 L252.4,79.3 L254.9,81.6 L254.9,83.8 L251.8,83.3 L248.4,81.3 L245.3,81.6Z" fill="#b2b7cc"/>
<path d="M198.8,109.6 L200.5,105.7 L203.9,104.0 L206.7,104.3 L206.2,107.9 L202.2,110.8Z" fill="#b2b7cc"/>
<path d="M202.8,114.2 L206.7,115.3 L206.7,116.4 L203.3,115.8Z" fill="#b2b7cc"/>
<path d="M42.4,44.3 L42.4,42.8 L47.1,39.2 L47.5,34.5 L45.9,32.6 L40.8,31.0 L40.8,28.3 L42.8,26.3 L47.1,22.8 M80.8,11.3 L79.9,13.6 M106.6,10.6 L105.9,12.8 M136.9,9.9 L133.5,15.8 L130.1,20.3 L127.3,24.3 L126.7,27.1 L123.9,29.6 M123.9,29.6 L120.5,29.7 L117.7,27.3 L115.0,26.3 M123.9,29.6 L126.2,31.1 L131.8,30.7 L134.6,33.9 L136.9,35.6 L135.2,37.3 L134.5,40.0 M153.3,19.2 L151.6,21.5 L146.5,24.3 L144.2,29.4 L145.4,35.0 L145.4,39.5 L139.7,41.2 L134.5,40.0 M183.0,22.8 L184.5,23.7 L183.0,28.8 L180.5,35.5 L177.0,41.0 L176.6,44.6 L178.9,50.2 L177.8,56.0 L175.4,61.0 L177.0,66.8 M177.0,66.8 L179.2,68.5 L182.4,70.5 L184.5,73.0 M177.0,66.8 L171.4,66.1 L165.7,68.4 L166.8,71.8 L168.0,76.3 L163.4,80.8 L158.9,85.3 L157.2,89.3 L155.5,86.5 L151.6,87.0 M131.7,60.2 L126.2,61.8 L123.5,59.5 L121.4,57.7 L117.5,56.1 L112.0,56.6 L109.6,57.3 L106.2,60.8 M87.0,84.4 L83.6,83.6 L79.1,85.9 L75.2,87.4 M79.1,119.8 L85.9,122.6 L91.4,127.5 L99.3,128.2 L104.7,126.6 L112.6,124.3 L119.4,124.9 L122.8,122.6 L128.4,123.8 L130.1,127.7 L128.2,131.7 L130.0,134.0 M165.0,136.3 L161.6,135.2 L158.8,131.8 L158.8,127.3 L157.8,122.6 L158.4,116.4" fill="none" stroke="#e8eaf2" stroke-width="0.7" stroke-linejoin="round"/>
</g>
<g transform="translate(309.5,360.0)">
<path d="M41.2,9.3 L39.2,7.5 L36.9,5.9 L34.5,4.7 L32.2,3.1 L30.2,4.3 L27.9,3.9 L25.9,5.9 L21.6,8.2 L22.0,9.8 L23.5,10.6 L23.2,11.8 L18.4,12.6 L15.7,14.1 L11.8,13.0 L9.4,15.3 L5.5,16.9 L4.3,19.2 L3.1,21.6 L5.5,22.8 L6.3,25.1 L8.6,26.3 L7.1,27.9 L7.5,30.2 L11.8,29.0 L12.2,31.0 L10.2,33.8 L13.0,34.5 L11.0,36.9 L13.0,37.7 L9.8,40.8 L9.4,44.7 L10.6,45.5 L16.9,41.2 L20.8,42.8 L23.5,44.7 L22.4,47.1 L24.3,47.9 L30.6,46.7 L36.9,47.1 L42.4,44.3 L42.4,42.8 L47.1,39.2 L47.5,34.5 L45.9,32.6 L40.8,31.0 L40.8,28.3 L42.8,26.3 L47.1,22.8 L43.6,20.8 L43.2,19.6 L45.5,16.9 L44.0,15.3 L38.1,11.4Z" fill="#b2b7cc" stroke="#b2b7cc" stroke-width="0.4"/>
<path d="M106.6,10.6 L108.6,11.3 L114.3,11.9 L117.7,9.9 L123.9,10.7 L130.7,11.9 L136.9,9.9 L133.5,15.8 L130.1,20.3 L127.3,24.3 L126.7,27.1 L123.9,29.6 L120.5,29.7 L117.7,27.3 L115.0,26.3 L112.6,22.0 L108.1,21.5 L108.1,20.3 L113.2,19.8 L112.0,16.9 L108.6,15.3 L105.9,12.8Z" fill="#b2b7cc" stroke="#b2b7cc" stroke-width="0.4"/>
<path d="M123.9,29.6 L126.2,31.1 L131.8,30.7 L134.6,33.9 L136.9,35.6 L135.2,37.3 L134.5,40.0 L133.5,39.5 L130.7,36.7 L127.3,35.9 L123.9,37.3 L122.8,39.5 L120.5,37.9 L117.7,39.5 L114.3,36.2 L114.0,30.5 L115.0,26.3 L117.7,27.3 L120.5,29.7Z" fill="#b2b7cc" stroke="#b2b7cc" stroke-width="0.4"/>
<path d="M136.9,9.9 L139.7,11.3 L143.1,10.7 L145.4,15.8 L148.8,18.6 L153.3,19.2 L151.6,21.5 L146.5,24.3 L144.2,29.4 L145.4,35.0 L145.4,39.5 L139.7,41.2 L134.5,40.0 L135.2,37.3 L136.9,35.6 L134.6,33.9 L131.8,30.7 L126.2,31.1 L123.9,29.6 L126.7,27.1 L127.3,24.3 L130.1,20.3 L133.5,15.8Z" fill="#b2b7cc" stroke="#b2b7cc" stroke-width="0.4"/>
<path d="M149.2,147.6 L145.2,152.1 L142.9,158.9 L139.0,163.4 L135.0,161.7 L130.5,162.3 L127.1,165.1 L120.3,164.5 L111.3,165.7 L100.4,165.1 L93.6,166.8 L88.0,170.8 L82.3,171.3 L76.7,174.2 L72.7,179.2 L71.6,182.6 L65.4,180.9 L59.7,177.0 L56.3,172.5 L56.9,170.2 L53.5,167.4 L54.6,165.7 L52.9,163.4 L47.3,158.3 L40.5,155.3 L33.2,154.9 L32.1,147.5 L34.9,142.0 L38.2,137.0 L43.1,133.2 L46.4,133.7 L47.0,135.9 L51.4,136.5 L54.1,137.0 L57.4,136.5 L60.2,138.5 L62.9,136.5 L66.2,132.1 L68.4,134.3 L72.8,131.5 L70.6,127.1 L74.5,123.3 L77.0,121.4 L79.1,119.8 L85.9,122.6 L91.4,127.5 L99.3,128.2 L104.7,126.6 L112.6,124.3 L119.4,124.9 L122.8,122.6 L128.4,123.8 L130.1,127.7 L128.2,131.7 L130.0,134.0 L132.8,135.2 L138.4,136.9 L139.5,139.7 L141.8,144.2 L145.2,146.5Z" fill="#b2b7cc" stroke="#b2b7cc" stroke-width="0.4"/>
<path d="M131.7,60.2 L126.2,61.8 L123.5,59.5 L121.4,57.7 L117.5,56.1 L112.0,56.6 L109.6,57.3 L106.2,60.8 L107.2,62.0 L108.4,64.0 L107.2,68.7 L108.8,73.5 L112.7,78.6 L113.1,80.6 L115.9,84.2 L113.9,87.7 L110.4,88.1 L109.6,86.1 L104.8,86.1 L101.6,85.3 L96.1,83.8 L90.6,83.8 L87.0,84.4 L83.6,83.6 L79.1,85.9 L75.2,87.4 L73.0,90.9 L75.3,94.3 L76.4,102.2 L79.8,104.5 L84.9,103.9 L83.8,108.4 L82.1,111.2 L81.5,116.0 L79.1,119.8 L85.9,122.6 L91.4,127.5 L99.3,128.2 L104.7,126.6 L112.6,124.3 L119.4,124.9 L122.8,122.6 L128.4,123.8 L130.1,127.7 L128.2,131.7 L130.0,134.0 L133.9,130.1 L137.4,126.4 L144.2,124.3 L148.2,123.8 L148.8,118.7 L151.6,115.8 L156.1,115.3 L158.4,116.4 L157.8,110.8 L152.7,108.5 L152.7,102.9 L147.1,101.2 L145.4,97.2 L149.9,92.1 L151.6,87.0 L147.6,86.5 L143.1,79.7 L138.6,76.3 L143.1,71.8 L142.3,66.0 L140.8,62.9 L137.2,61.0Z" fill="#b2b7cc" stroke="#b2b7cc" stroke-width="0.4"/>
<path d="M106.2,60.8 L102.4,64.0 L101.3,66.8 L98.1,67.9 L97.7,70.7 L95.3,71.5 L94.5,75.5 L90.6,76.6 L91.0,79.0 L87.0,82.2 L87.0,84.4 L90.6,83.8 L96.1,83.8 L101.6,85.3 L104.8,86.1 L109.6,86.1 L110.4,88.1 L113.9,87.7 L115.9,84.2 L113.1,80.6 L112.7,78.6 L108.8,73.5 L107.2,68.7 L108.4,64.0 L107.2,62.0Z" fill="#b2b7cc" stroke="#b2b7cc" stroke-width="0.4"/>
<path d="M42.4,44.3 L42.4,42.8 L47.1,39.2 L47.5,34.5 L45.9,32.6 L40.8,31.0 L40.8,28.3 L42.8,26.3 L47.1,22.8 L50.8,19.8 L57.6,17.5 L61.6,20.3 L74.6,15.3 L79.9,13.6 L81.9,18.6 L88.1,19.2 L93.2,24.3 L97.2,22.9 L94.3,21.2 L98.3,16.2 L105.9,12.8 L108.6,15.3 L112.0,16.9 L113.2,19.8 L108.1,20.3 L108.1,21.5 L112.6,22.0 L115.0,26.3 L114.0,30.5 L114.3,36.2 L117.7,39.5 L120.5,37.9 L122.8,39.5 L123.9,37.3 L127.3,35.9 L130.7,36.7 L133.5,39.5 L134.5,40.0 L136.5,45.2 L135.7,49.0 L133.3,52.9 L132.5,54.5 L131.3,58.6 L131.7,60.2 L126.2,61.8 L123.5,59.5 L121.4,57.7 L117.5,56.1 L112.0,56.6 L109.6,57.3 L106.2,60.8 L102.4,64.0 L101.3,66.8 L98.1,67.9 L97.7,70.7 L95.3,71.5 L94.5,75.5 L90.6,76.6 L91.0,79.0 L87.0,82.2 L87.0,84.4 L83.6,83.6 L79.1,85.9 L75.2,87.4 L73.6,84.7 L69.1,85.3 L65.7,83.6 L61.2,82.4 L56.1,80.2 L49.9,84.7 L44.8,85.3 L43.8,87.5 L46.9,83.6 L46.3,76.3 L46.9,71.8 L45.5,67.3 L49.7,63.3 L56.5,58.8 L58.2,54.2 L52.5,51.4 L52.0,45.2 L49.7,44.6Z" fill="#b2b7cc" stroke="#b2b7cc" stroke-width="0.4"/>
<path d="M41.2,9.3 L45.2,8.5 L54.2,9.0 L65.0,7.3 L70.0,9.6 L80.8,11.3 L79.9,13.6 L74.6,15.3 L61.6,20.3 L57.6,17.5 L50.8,19.8 L47.1,22.8 L43.6,20.8 L43.2,19.6 L45.5,16.9 L44.0,15.3 L38.1,11.4Z" fill="#0b65e8" stroke="#0b65e8" stroke-width="0.4"/>
<path d="M80.8,11.3 L90.4,11.3 L100.0,9.8 L105.0,9.2 L106.2,9.3 L106.6,10.6 L105.9,12.8 L98.3,16.2 L94.3,21.2 L97.2,22.9 L93.2,24.3 L88.1,19.2 L81.9,18.6 L79.9,13.6Z" fill="#0b65e8" stroke="#0b65e8" stroke-width="0.4"/>
<path d="M153.3,19.2 L157.8,20.3 L163.4,22.0 L169.1,23.7 L175.9,23.2 L183.0,22.8 L184.5,23.7 L183.0,28.8 L180.5,35.5 L177.0,41.0 L176.6,44.6 L178.9,50.2 L177.8,56.0 L175.4,61.0 L177.0,66.8 L171.4,66.1 L165.7,68.4 L166.8,71.8 L168.0,76.3 L163.4,80.8 L158.9,85.3 L157.2,89.3 L155.5,86.5 L151.6,87.0 L147.6,86.5 L143.1,79.7 L138.6,76.3 L143.1,71.8 L142.3,66.0 L140.8,62.9 L137.2,61.0 L131.7,60.2 L131.3,58.6 L132.5,54.5 L133.3,52.9 L135.7,49.0 L136.5,45.2 L134.5,40.0 L139.7,41.2 L145.4,39.5 L145.4,35.0 L144.2,29.4 L146.5,24.3 L151.6,21.5Z" fill="#0b65e8" stroke="#0b65e8" stroke-width="0.4"/>
<path d="M183.0,22.8 L182.4,19.2 L188.1,20.3 L195.4,21.5 L197.1,26.6 L203.9,26.0 L208.4,27.7 L212.9,26.2 L218.6,27.1 L223.1,23.7 L227.6,24.3 L231.0,26.6 L228.2,28.2 L230.5,33.3 L228.2,37.9 L222.0,42.9 L215.2,48.0 L211.8,52.5 L203.9,55.4 L196.0,58.2 L190.3,62.7 L187.5,66.7 L190.3,68.4 L185.8,70.1 L184.5,73.0 L182.4,70.5 L179.2,68.5 L177.0,66.8 L175.4,61.0 L177.8,56.0 L178.9,50.2 L176.6,44.6 L177.0,41.0 L180.5,35.5 L183.0,28.8 L184.5,23.7Z" fill="#0b65e8" stroke="#0b65e8" stroke-width="0.4"/>
<path d="M177.0,66.8 L179.2,68.5 L182.4,70.5 L184.5,73.0 L179.3,81.9 L173.6,91.0 L170.2,97.8 L172.5,106.8 L181.7,114.7 L175.8,120.0 L171.0,125.5 L168.0,131.0 L165.0,136.3 L161.6,135.2 L158.8,131.8 L158.8,127.3 L157.8,122.6 L158.4,116.4 L157.8,110.8 L152.7,108.5 L152.7,102.9 L147.1,101.2 L145.4,97.2 L149.9,92.1 L151.6,87.0 L155.5,86.5 L157.2,89.3 L158.9,85.3 L163.4,80.8 L168.0,76.3 L166.8,71.8 L165.7,68.4 L171.4,66.1Z" fill="#0b65e8" stroke="#0b65e8" stroke-width="0.4"/>
<path d="M165.0,136.3 L163.8,139.7 L165.5,141.9 L161.0,142.5 L154.2,144.2 L149.2,147.6 L145.2,146.5 L141.8,144.2 L139.5,139.7 L138.4,136.9 L132.8,135.2 L130.0,134.0 L133.9,130.1 L137.4,126.4 L144.2,124.3 L148.2,123.8 L148.8,118.7 L151.6,115.8 L156.1,115.3 L158.4,116.4 L157.8,122.6 L158.8,127.3 L158.8,131.8 L161.6,135.2Z" fill="#0b65e8" stroke="#0b65e8" stroke-width="0.4"/>
<path d="M43.8,87.5 L44.8,90.9 L42.5,98.2 L32.9,99.4 L38.6,109.5 L43.1,114.6 L42.0,117.5 L37.4,122.0 L36.0,125.5 L39.3,130.4 L43.1,133.2 L46.4,133.7 L47.0,135.9 L51.4,136.5 L54.1,137.0 L57.4,136.5 L60.2,138.5 L62.9,136.5 L66.2,132.1 L68.4,134.3 L72.8,131.5 L70.6,127.1 L74.5,123.3 L77.0,121.4 L79.1,119.8 L81.5,116.0 L82.1,111.2 L83.8,108.4 L84.9,103.9 L79.8,104.5 L76.4,102.2 L75.3,94.3 L73.0,90.9 L75.2,87.4 L73.6,84.7 L69.1,85.3 L65.7,83.6 L61.2,82.4 L56.1,80.2 L49.9,84.7 L44.8,85.3Z" fill="#0b65e8" stroke="#0b65e8" stroke-width="0.4"/>
<path d="M216.5,91.5 L219.9,88.9 L224.1,85.0 L228.1,82.1 L232.6,80.5 L233.7,80.2 L233.4,82.1 L234.3,82.7 L233.7,84.1 L235.1,85.5 L237.1,85.8 L238.5,85.0 L240.2,85.5 L240.5,87.5 L239.4,89.8 L237.1,92.6 L236.6,94.9 L234.3,97.1 L232.6,98.8 L230.9,97.7 L228.1,96.6 L225.5,94.3 L225.0,92.3 L222.7,91.8 L220.2,93.7 L217.3,92.6Z" fill="#b2b7cc"/>
<path d="M244.5,79.0 L246.2,78.2 L249.5,77.9 L252.4,79.3 L254.9,81.6 L254.9,83.8 L251.8,83.3 L248.4,81.3 L245.3,81.6Z" fill="#b2b7cc"/>
<path d="M198.8,109.6 L200.5,105.7 L203.9,104.0 L206.7,104.3 L206.2,107.9 L202.2,110.8Z" fill="#b2b7cc"/>
<path d="M202.8,114.2 L206.7,115.3 L206.7,116.4 L203.3,115.8Z" fill="#b2b7cc"/>
<path d="M42.4,44.3 L42.4,42.8 L47.1,39.2 L47.5,34.5 L45.9,32.6 L40.8,31.0 L40.8,28.3 L42.8,26.3 L47.1,22.8 M80.8,11.3 L79.9,13.6 M136.9,9.9 L133.5,15.8 L130.1,20.3 L127.3,24.3 L126.7,27.1 L123.9,29.6 M123.9,29.6 L120.5,29.7 L117.7,27.3 L115.0,26.3 M115.0,26.3 L112.6,22.0 L108.1,21.5 L108.1,20.3 L113.2,19.8 L112.0,16.9 L108.6,15.3 L105.9,12.8 M123.9,29.6 L126.2,31.1 L131.8,30.7 L134.6,33.9 L136.9,35.6 L135.2,37.3 L134.5,40.0 M134.5,40.0 L133.5,39.5 L130.7,36.7 L127.3,35.9 L123.9,37.3 L122.8,39.5 L120.5,37.9 L117.7,39.5 L114.3,36.2 L114.0,30.5 L115.0,26.3 M183.0,22.8 L184.5,23.7 L183.0,28.8 L180.5,35.5 L177.0,41.0 L176.6,44.6 L178.9,50.2 L177.8,56.0 L175.4,61.0 L177.0,66.8 M177.0,66.8 L179.2,68.5 L182.4,70.5 L184.5,73.0 M177.0,66.8 L171.4,66.1 L165.7,68.4 L166.8,71.8 L168.0,76.3 L163.4,80.8 L158.9,85.3 L157.2,89.3 L155.5,86.5 L151.6,87.0 M131.7,60.2 L126.2,61.8 L123.5,59.5 L121.4,57.7 L117.5,56.1 L112.0,56.6 L109.6,57.3 L106.2,60.8 M106.2,60.8 L102.4,64.0 L101.3,66.8 L98.1,67.9 L97.7,70.7 L95.3,71.5 L94.5,75.5 L90.6,76.6 L91.0,79.0 L87.0,82.2 L87.0,84.4 M87.0,84.4 L90.6,83.8 L96.1,83.8 L101.6,85.3 L104.8,86.1 L109.6,86.1 L110.4,88.1 L113.9,87.7 L115.9,84.2 L113.1,80.6 L112.7,78.6 L108.8,73.5 L107.2,68.7 L108.4,64.0 L107.2,62.0 L106.2,60.8 M87.0,84.4 L83.6,83.6 L79.1,85.9 L75.2,87.4 M79.1,119.8 L85.9,122.6 L91.4,127.5 L99.3,128.2 L104.7,126.6 L112.6,124.3 L119.4,124.9 L122.8,122.6 L128.4,123.8 L130.1,127.7 L128.2,131.7 L130.0,134.0 M165.0,136.3 L161.6,135.2 L158.8,131.8 L158.8,127.3 L157.8,122.6 L158.4,116.4" fill="none" stroke="#e8eaf2" stroke-width="0.7" stroke-linejoin="round"/>
</g>
<g transform="translate(600.0,360.0)">
<path d="M41.2,9.3 L39.2,7.5 L36.9,5.9 L34.5,4.7 L32.2,3.1 L30.2,4.3 L27.9,3.9 L25.9,5.9 L21.6,8.2 L22.0,9.8 L23.5,10.6 L23.2,11.8 L18.4,12.6 L15.7,14.1 L11.8,13.0 L9.4,15.3 L5.5,16.9 L4.3,19.2 L3.1,21.6 L5.5,22.8 L6.3,25.1 L8.6,26.3 L7.1,27.9 L7.5,30.2 L11.8,29.0 L12.2,31.0 L10.2,33.8 L13.0,34.5 L11.0,36.9 L13.0,37.7 L9.8,40.8 L9.4,44.7 L10.6,45.5 L16.9,41.2 L20.8,42.8 L23.5,44.7 L22.4,47.1 L24.3,47.9 L30.6,46.7 L36.9,47.1 L42.4,44.3 L42.4,42.8 L47.1,39.2 L47.5,34.5 L45.9,32.6 L40.8,31.0 L40.8,28.3 L42.8,26.3 L47.1,22.8 L43.6,20.8 L43.2,19.6 L45.5,16.9 L44.0,15.3 L38.1,11.4Z" fill="#b2b7cc" stroke="#b2b7cc" stroke-width="0.4"/>
<path d="M41.2,9.3 L45.2,8.5 L54.2,9.0 L65.0,7.3 L70.0,9.6 L80.8,11.3 L79.9,13.6 L74.6,15.3 L61.6,20.3 L57.6,17.5 L50.8,19.8 L47.1,22.8 L43.6,20.8 L43.2,19.6 L45.5,16.9 L44.0,15.3 L38.1,11.4Z" fill="#b2b7cc" stroke="#b2b7cc" stroke-width="0.4"/>
<path d="M80.8,11.3 L90.4,11.3 L100.0,9.8 L105.0,9.2 L106.2,9.3 L106.6,10.6 L105.9,12.8 L98.3,16.2 L94.3,21.2 L97.2,22.9 L93.2,24.3 L88.1,19.2 L81.9,18.6 L79.9,13.6Z" fill="#b2b7cc" stroke="#b2b7cc" stroke-width="0.4"/>
<path d="M136.9,9.9 L139.7,11.3 L143.1,10.7 L145.4,15.8 L148.8,18.6 L153.3,19.2 L151.6,21.5 L146.5,24.3 L144.2,29.4 L145.4,35.0 L145.4,39.5 L139.7,41.2 L134.5,40.0 L135.2,37.3 L136.9,35.6 L134.6,33.9 L131.8,30.7 L126.2,31.1 L123.9,29.6 L126.7,27.1 L127.3,24.3 L130.1,20.3 L133.5,15.8Z" fill="#b2b7cc" stroke="#b2b7cc" stroke-width="0.4"/>
<path d="M153.3,19.2 L157.8,20.3 L163.4,22.0 L169.1,23.7 L175.9,23.2 L183.0,22.8 L184.5,23.7 L183.0,28.8 L180.5,35.5 L177.0,41.0 L176.6,44.6 L178.9,50.2 L177.8,56.0 L175.4,61.0 L177.0,66.8 L171.4,66.1 L165.7,68.4 L166.8,71.8 L168.0,76.3 L163.4,80.8 L158.9,85.3 L157.2,89.3 L155.5,86.5 L151.6,87.0 L147.6,86.5 L143.1,79.7 L138.6,76.3 L143.1,71.8 L142.3,66.0 L140.8,62.9 L137.2,61.0 L131.7,60.2 L131.3,58.6 L132.5,54.5 L133.3,52.9 L135.7,49.0 L136.5,45.2 L134.5,40.0 L139.7,41.2 L145.4,39.5 L145.4,35.0 L144.2,29.4 L146.5,24.3 L151.6,21.5Z" fill="#b2b7cc" stroke="#b2b7cc" stroke-width="0.4"/>
<path d="M183.0,22.8 L182.4,19.2 L188.1,20.3 L195.4,21.5 L197.1,26.6 L203.9,26.0 L208.4,27.7 L212.9,26.2 L218.6,27.1 L223.1,23.7 L227.6,24.3 L231.0,26.6 L228.2,28.2 L230.5,33.3 L228.2,37.9 L222.0,42.9 L215.2,48.0 L211.8,52.5 L203.9,55.4 L196.0,58.2 L190.3,62.7 L187.5,66.7 L190.3,68.4 L185.8,70.1 L184.5,73.0 L182.4,70.5 L179.2,68.5 L177.0,66.8 L175.4,61.0 L177.8,56.0 L178.9,50.2 L176.6,44.6 L177.0,41.0 L180.5,35.5 L183.0,28.8 L184.5,23.7Z" fill="#b2b7cc" stroke="#b2b7cc" stroke-width="0.4"/>
<path d="M177.0,66.8 L179.2,68.5 L182.4,70.5 L184.5,73.0 L179.3,81.9 L173.6,91.0 L170.2,97.8 L172.5,106.8 L181.7,114.7 L175.8,120.0 L171.0,125.5 L168.0,131.0 L165.0,136.3 L161.6,135.2 L158.8,131.8 L158.8,127.3 L157.8,122.6 L158.4,116.4 L157.8,110.8 L152.7,108.5 L152.7,102.9 L147.1,101.2 L145.4,97.2 L149.9,92.1 L151.6,87.0 L155.5,86.5 L157.2,89.3 L158.9,85.3 L163.4,80.8 L168.0,76.3 L166.8,71.8 L165.7,68.4 L171.4,66.1Z" fill="#b2b7cc" stroke="#b2b7cc" stroke-width="0.4"/>
<path d="M165.0,136.3 L163.8,139.7 L165.5,141.9 L161.0,142.5 L154.2,144.2 L149.2,147.6 L145.2,146.5 L141.8,144.2 L139.5,139.7 L138.4,136.9 L132.8,135.2 L130.0,134.0 L133.9,130.1 L137.4,126.4 L144.2,124.3 L148.2,123.8 L148.8,118.7 L151.6,115.8 L156.1,115.3 L158.4,116.4 L157.8,122.6 L158.8,127.3 L158.8,131.8 L161.6,135.2Z" fill="#b2b7cc" stroke="#b2b7cc" stroke-width="0.4"/>
<path d="M149.2,147.6 L145.2,152.1 L142.9,158.9 L139.0,163.4 L135.0,161.7 L130.5,162.3 L127.1,165.1 L120.3,164.5 L111.3,165.7 L100.4,165.1 L93.6,166.8 L88.0,170.8 L82.3,171.3 L76.7,174.2 L72.7,179.2 L71.6,182.6 L65.4,180.9 L59.7,177.0 L56.3,172.5 L56.9,170.2 L53.5,167.4 L54.6,165.7 L52.9,163.4 L47.3,158.3 L40.5,155.3 L33.2,154.9 L32.1,147.5 L34.9,142.0 L38.2,137.0 L43.1,133.2 L46.4,133.7 L47.0,135.9 L51.4,136.5 L54.1,137.0 L57.4,136.5 L60.2,138.5 L62.9,136.5 L66.2,132.1 L68.4,134.3 L72.8,131.5 L70.6,127.1 L74.5,123.3 L77.0,121.4 L79.1,119.8 L85.9,122.6 L91.4,127.5 L99.3,128.2 L104.7,126.6 L112.6,124.3 L119.4,124.9 L122.8,122.6 L128.4,123.8 L130.1,127.7 L128.2,131.7 L130.0,134.0 L132.8,135.2 L138.4,136.9 L139.5,139.7 L141.8,144.2 L145.2,146.5Z" fill="#b2b7cc" stroke="#b2b7cc" stroke-width="0.4"/>
<path d="M43.8,87.5 L44.8,90.9 L42.5,98.2 L32.9,99.4 L38.6,109.5 L43.1,114.6 L42.0,117.5 L37.4,122.0 L36.0,125.5 L39.3,130.4 L43.1,133.2 L46.4,133.7 L47.0,135.9 L51.4,136.5 L54.1,137.0 L57.4,136.5 L60.2,138.5 L62.9,136.5 L66.2,132.1 L68.4,134.3 L72.8,131.5 L70.6,127.1 L74.5,123.3 L77.0,121.4 L79.1,119.8 L81.5,116.0 L82.1,111.2 L83.8,108.4 L84.9,103.9 L79.8,104.5 L76.4,102.2 L75.3,94.3 L73.0,90.9 L75.2,87.4 L73.6,84.7 L69.1,85.3 L65.7,83.6 L61.2,82.4 L56.1,80.2 L49.9,84.7 L44.8,85.3Z" fill="#b2b7cc" stroke="#b2b7cc" stroke-width="0.4"/>
<path d="M131.7,60.2 L126.2,61.8 L123.5,59.5 L121.4,57.7 L117.5,56.1 L112.0,56.6 L109.6,57.3 L106.2,60.8 L107.2,62.0 L108.4,64.0 L107.2,68.7 L108.8,73.5 L112.7,78.6 L113.1,80.6 L115.9,84.2 L113.9,87.7 L110.4,88.1 L109.6,86.1 L104.8,86.1 L101.6,85.3 L96.1,83.8 L90.6,83.8 L87.0,84.4 L83.6,83.6 L79.1,85.9 L75.2,87.4 L73.0,90.9 L75.3,94.3 L76.4,102.2 L79.8,104.5 L84.9,103.9 L83.8,108.4 L82.1,111.2 L81.5,116.0 L79.1,119.8 L85.9,122.6 L91.4,127.5 L99.3,128.2 L104.7,126.6 L112.6,124.3 L119.4,124.9 L122.8,122.6 L128.4,123.8 L130.1,127.7 L128.2,131.7 L130.0,134.0 L133.9,130.1 L137.4,126.4 L144.2,124.3 L148.2,123.8 L148.8,118.7 L151.6,115.8 L156.1,115.3 L158.4,116.4 L157.8,110.8 L152.7,108.5 L152.7,102.9 L147.1,101.2 L145.4,97.2 L149.9,92.1 L151.6,87.0 L147.6,86.5 L143.1,79.7 L138.6,76.3 L143.1,71.8 L142.3,66.0 L140.8,62.9 L137.2,61.0Z" fill="#b2b7cc" stroke="#b2b7cc" stroke-width="0.4"/>
<path d="M42.4,44.3 L42.4,42.8 L47.1,39.2 L47.5,34.5 L45.9,32.6 L40.8,31.0 L40.8,28.3 L42.8,26.3 L47.1,22.8 L50.8,19.8 L57.6,17.5 L61.6,20.3 L74.6,15.3 L79.9,13.6 L81.9,18.6 L88.1,19.2 L93.2,24.3 L97.2,22.9 L94.3,21.2 L98.3,16.2 L105.9,12.8 L108.6,15.3 L112.0,16.9 L113.2,19.8 L108.1,20.3 L108.1,21.5 L112.6,22.0 L115.0,26.3 L114.0,30.5 L114.3,36.2 L117.7,39.5 L120.5,37.9 L122.8,39.5 L123.9,37.3 L127.3,35.9 L130.7,36.7 L133.5,39.5 L134.5,40.0 L136.5,45.2 L135.7,49.0 L133.3,52.9 L132.5,54.5 L131.3,58.6 L131.7,60.2 L126.2,61.8 L123.5,59.5 L121.4,57.7 L117.5,56.1 L112.0,56.6 L109.6,57.3 L106.2,60.8 L102.4,64.0 L101.3,66.8 L98.1,67.9 L97.7,70.7 L95.3,71.5 L94.5,75.5 L90.6,76.6 L91.0,79.0 L87.0,82.2 L87.0,84.4 L83.6,83.6 L79.1,85.9 L75.2,87.4 L73.6,84.7 L69.1,85.3 L65.7,83.6 L61.2,82.4 L56.1,80.2 L49.9,84.7 L44.8,85.3 L43.8,87.5 L46.9,83.6 L46.3,76.3 L46.9,71.8 L45.5,67.3 L49.7,63.3 L56.5,58.8 L58.2,54.2 L52.5,51.4 L52.0,45.2 L49.7,44.6Z" fill="#b2b7cc" stroke="#b2b7cc" stroke-width="0.4"/>
<path d="M106.6,10.6 L108.6,11.3 L114.3,11.9 L117.7,9.9 L123.9,10.7 L130.7,11.9 L136.9,9.9 L133.5,15.8 L130.1,20.3 L127.3,24.3 L126.7,27.1 L123.9,29.6 L120.5,29.7 L117.7,27.3 L115.0,26.3 L112.6,22.0 L108.1,21.5 L108.1,20.3 L113.2,19.8 L112.0,16.9 L108.6,15.3 L105.9,12.8Z" fill="#d048a9" stroke="#d048a9" stroke-width="0.4"/>
<path d="M123.9,29.6 L126.2,31.1 L131.8,30.7 L134.6,33.9 L136.9,35.6 L135.2,37.3 L134.5,40.0 L133.5,39.5 L130.7,36.7 L127.3,35.9 L123.9,37.3 L122.8,39.5 L120.5,37.9 L117.7,39.5 L114.3,36.2 L114.0,30.5 L115.0,26.3 L117.7,27.3 L120.5,29.7Z" fill="#d048a9" stroke="#d048a9" stroke-width="0.4"/>
<path d="M106.2,60.8 L102.4,64.0 L101.3,66.8 L98.1,67.9 L97.7,70.7 L95.3,71.5 L94.5,75.5 L90.6,76.6 L91.0,79.0 L87.0,82.2 L87.0,84.4 L90.6,83.8 L96.1,83.8 L101.6,85.3 L104.8,86.1 L109.6,86.1 L110.4,88.1 L113.9,87.7 L115.9,84.2 L113.1,80.6 L112.7,78.6 L108.8,73.5 L107.2,68.7 L108.4,64.0 L107.2,62.0Z" fill="#d048a9" stroke="#d048a9" stroke-width="0.4"/>
<path d="M216.5,91.5 L219.9,88.9 L224.1,85.0 L228.1,82.1 L232.6,80.5 L233.7,80.2 L233.4,82.1 L234.3,82.7 L233.7,84.1 L235.1,85.5 L237.1,85.8 L238.5,85.0 L240.2,85.5 L240.5,87.5 L239.4,89.8 L237.1,92.6 L236.6,94.9 L234.3,97.1 L232.6,98.8 L230.9,97.7 L228.1,96.6 L225.5,94.3 L225.0,92.3 L222.7,91.8 L220.2,93.7 L217.3,92.6Z" fill="#d048a9"/>
<path d="M244.5,79.0 L246.2,78.2 L249.5,77.9 L252.4,79.3 L254.9,81.6 L254.9,83.8 L251.8,83.3 L248.4,81.3 L245.3,81.6Z" fill="#d048a9"/>
<path d="M198.8,109.6 L200.5,105.7 L203.9,104.0 L206.7,104.3 L206.2,107.9 L202.2,110.8Z" fill="#d048a9"/>
<path d="M202.8,114.2 L206.7,115.3 L206.7,116.4 L203.3,115.8Z" fill="#d048a9"/>
<path d="M42.4,44.3 L42.4,42.8 L47.1,39.2 L47.5,34.5 L45.9,32.6 L40.8,31.0 L40.8,28.3 L42.8,26.3 L47.1,22.8 M47.1,22.8 L43.6,20.8 L43.2,19.6 L45.5,16.9 L44.0,15.3 L38.1,11.4 L41.2,9.3 M80.8,11.3 L79.9,13.6 M79.9,13.6 L74.6,15.3 L61.6,20.3 L57.6,17.5 L50.8,19.8 L47.1,22.8 M105.9,12.8 L98.3,16.2 L94.3,21.2 L97.2,22.9 L93.2,24.3 L88.1,19.2 L81.9,18.6 L79.9,13.6 M123.9,29.6 L120.5,29.7 L117.7,27.3 L115.0,26.3 M153.3,19.2 L151.6,21.5 L146.5,24.3 L144.2,29.4 L145.4,35.0 L145.4,39.5 L139.7,41.2 L134.5,40.0 M183.0,22.8 L184.5,23.7 L183.0,28.8 L180.5,35.5 L177.0,41.0 L176.6,44.6 L178.9,50.2 L177.8,56.0 L175.4,61.0 L177.0,66.8 M177.0,66.8 L179.2,68.5 L182.4,70.5 L184.5,73.0 M177.0,66.8 L171.4,66.1 L165.7,68.4 L166.8,71.8 L168.0,76.3 L163.4,80.8 L158.9,85.3 L157.2,89.3 L155.5,86.5 L151.6,87.0 M151.6,87.0 L147.6,86.5 L143.1,79.7 L138.6,76.3 L143.1,71.8 L142.3,66.0 L140.8,62.9 L137.2,61.0 L131.7,60.2 M131.7,60.2 L131.3,58.6 L132.5,54.5 L133.3,52.9 L135.7,49.0 L136.5,45.2 L134.5,40.0 M131.7,60.2 L126.2,61.8 L123.5,59.5 L121.4,57.7 L117.5,56.1 L112.0,56.6 L109.6,57.3 L106.2,60.8 M87.0,84.4 L83.6,83.6 L79.1,85.9 L75.2,87.4 M75.2,87.4 L73.6,84.7 L69.1,85.3 L65.7,83.6 L61.2,82.4 L56.1,80.2 L49.9,84.7 L44.8,85.3 L43.8,87.5 M75.2,87.4 L73.0,90.9 L75.3,94.3 L76.4,102.2 L79.8,104.5 L84.9,103.9 L83.8,108.4 L82.1,111.2 L81.5,116.0 L79.1,119.8 M79.1,119.8 L77.0,121.4 L74.5,123.3 L70.6,127.1 L72.8,131.5 L68.4,134.3 L66.2,132.1 L62.9,136.5 L60.2,138.5 L57.4,136.5 L54.1,137.0 L51.4,136.5 L47.0,135.9 L46.4,133.7 L43.1,133.2 M79.1,119.8 L85.9,122.6 L91.4,127.5 L99.3,128.2 L104.7,126.6 L112.6,124.3 L119.4,124.9 L122.8,122.6 L128.4,123.8 L130.1,127.7 L128.2,131.7 L130.0,134.0 M130.0,134.0 L133.9,130.1 L137.4,126.4 L144.2,124.3 L148.2,123.8 L148.8,118.7 L151.6,115.8 L156.1,115.3 L158.4,116.4 M158.4,116.4 L157.8,110.8 L152.7,108.5 L152.7,102.9 L147.1,101.2 L145.4,97.2 L149.9,92.1 L151.6,87.0 M165.0,136.3 L161.6,135.2 L158.8,131.8 L158.8,127.3 L157.8,122.6 L158.4,116.4 M149.2,147.6 L145.2,146.5 L141.8,144.2 L139.5,139.7 L138.4,136.9 L132.8,135.2 L130.0,134.0" fill="none" stroke="#e8eaf2" stroke-width="0.7" stroke-linejoin="round"/>
</g>
<text x="37.99" y="383.10" font-size="8.30" font-weight="bold" fill="#ffffff" textLength="16.35" lengthAdjust="spacingAndGlyphs">GAL</text><text x="33.98" y="393.20" font-size="8.30" font-weight="bold" fill="#ffffff" textLength="24.38" lengthAdjust="spacingAndGlyphs">+2593</text>
<text x="91.48" y="406.50" font-size="8.30" font-weight="bold" fill="#ffffff" textLength="15.75" lengthAdjust="spacingAndGlyphs">CYL</text><text x="88.06" y="416.40" font-size="8.30" font-weight="bold" fill="#ffffff" textLength="22.63" lengthAdjust="spacingAndGlyphs">+2156</text>
<text x="125.44" y="462.80" font-size="8.30" font-weight="bold" fill="#ffffff" textLength="19.58" lengthAdjust="spacingAndGlyphs">CLM</text><text x="123.76" y="473.00" font-size="8.30" font-weight="bold" fill="#ffffff" textLength="22.63" lengthAdjust="spacingAndGlyphs">+1973</text>
<text x="100.73" y="505.30" font-size="8.30" font-weight="bold" fill="#ffffff" textLength="18.67" lengthAdjust="spacingAndGlyphs">AND</text><text x="98.66" y="515.00" font-size="8.30" font-weight="bold" fill="#ffffff" textLength="22.70" lengthAdjust="spacingAndGlyphs">+9557</text>
<text x="362.39" y="355.50" font-size="8.30" font-weight="bold" fill="#263668" textLength="16.69" lengthAdjust="spacingAndGlyphs">AST</text><text x="361.14" y="365.30" font-size="8.30" font-weight="bold" fill="#263668" textLength="19.31" lengthAdjust="spacingAndGlyphs">+722</text>
<text x="390.79" y="358.80" font-size="8.30" font-weight="bold" fill="#263668" textLength="19.67" lengthAdjust="spacingAndGlyphs">CAN</text><text x="391.72" y="368.40" font-size="8.30" font-weight="bold" fill="#263668" textLength="17.50" lengthAdjust="spacingAndGlyphs">+196</text>
<text x="458.84" y="409.80" font-size="8.30" font-weight="bold" fill="#ffffff" textLength="18.54" lengthAdjust="spacingAndGlyphs">ARA</text><text x="458.70" y="419.70" font-size="8.30" font-weight="bold" fill="#ffffff" textLength="18.68" lengthAdjust="spacingAndGlyphs">+801</text>
<text x="497.96" y="400.30" font-size="8.30" font-weight="bold" fill="#ffffff" textLength="16.83" lengthAdjust="spacingAndGlyphs">CAT</text><text x="494.28" y="410.10" font-size="8.30" font-weight="bold" fill="#ffffff" textLength="24.45" lengthAdjust="spacingAndGlyphs">+2287</text>
<text x="486.31" y="454.30" font-size="8.30" font-weight="bold" fill="#263668" textLength="17.06" lengthAdjust="spacingAndGlyphs">CVA</text><text x="483.82" y="464.20" font-size="8.30" font-weight="bold" fill="#263668" textLength="22.06" lengthAdjust="spacingAndGlyphs">+2155</text>
<text x="459.51" y="513.00" font-size="8.30" font-weight="bold" fill="#263668" textLength="19.99" lengthAdjust="spacingAndGlyphs">MUR</text><text x="459.72" y="522.90" font-size="8.30" font-weight="bold" fill="#263668" textLength="19.95" lengthAdjust="spacingAndGlyphs">+607</text>
<text x="359.61" y="469.00" font-size="8.30" font-weight="bold" fill="#ffffff" textLength="15.52" lengthAdjust="spacingAndGlyphs">EXT</text><text x="357.88" y="478.80" font-size="8.30" font-weight="bold" fill="#ffffff" textLength="19.41" lengthAdjust="spacingAndGlyphs">+470</text>
<text x="714.35" y="356.90" font-size="8.30" font-weight="bold" fill="#263668" textLength="17.54" lengthAdjust="spacingAndGlyphs">PVA</text><text x="713.88" y="366.80" font-size="8.30" font-weight="bold" fill="#263668" textLength="18.53" lengthAdjust="spacingAndGlyphs">-964</text>
<text x="696.46" y="394.10" font-size="8.30" font-weight="bold" fill="#263668" textLength="15.46" lengthAdjust="spacingAndGlyphs">RIO</text><text x="695.76" y="403.70" font-size="8.30" font-weight="bold" fill="#263668" textLength="16.99" lengthAdjust="spacingAndGlyphs">-165</text>
<text x="691.58" y="456.30" font-size="8.30" font-weight="bold" fill="#263668" textLength="21.01" lengthAdjust="spacingAndGlyphs">MAD</text><text x="691.57" y="465.90" font-size="8.30" font-weight="bold" fill="#263668" textLength="21.29" lengthAdjust="spacingAndGlyphs">-1327</text>
<text x="820.30" y="469.00" font-size="8.30" font-weight="bold" fill="#263668" textLength="16.69" lengthAdjust="spacingAndGlyphs">BAL</text><text x="819.22" y="478.90" font-size="8.30" font-weight="bold" fill="#263668" textLength="18.84" lengthAdjust="spacingAndGlyphs">-204</text>
<text x="15.59" y="569.10" font-size="11.60" font-weight="normal" fill="#4e4e4e" word-spacing="-0.81" textLength="246.81" lengthAdjust="spacingAndGlyphs">Two thirds of the extra starts came from 4</text>
<text x="14.99" y="583.00" font-size="11.60" font-weight="normal" fill="#4e4e4e" word-spacing="-0.81" textLength="242.78" lengthAdjust="spacingAndGlyphs">regions that experienced increases &gt;40%</text>
<text x="15.22" y="596.80" font-size="11.60" font-weight="normal" fill="#4e4e4e" word-spacing="-0.81" textLength="176.30" lengthAdjust="spacingAndGlyphs">over their normal* start levels.</text>
<text x="304.49" y="569.10" font-size="11.60" font-weight="normal" fill="#4e4e4e" word-spacing="-0.81" textLength="230.61" lengthAdjust="spacingAndGlyphs">The rest of the extra starts came from 7</text>
<text x="303.88" y="583.00" font-size="11.60" font-weight="normal" fill="#4e4e4e" word-spacing="-0.81" textLength="225.24" lengthAdjust="spacingAndGlyphs">regions where the increases over their</text>
<text x="303.90" y="596.80" font-size="11.60" font-weight="normal" fill="#4e4e4e" word-spacing="-0.81" textLength="212.47" lengthAdjust="spacingAndGlyphs">normal* start levels have been ~20%</text>
<text x="596.25" y="569.10" font-size="11.60" font-weight="normal" fill="#4e4e4e" word-spacing="-0.81" textLength="266.08" lengthAdjust="spacingAndGlyphs">Only 4 regions have shown less than normal*</text>
<text x="596.53" y="583.00" font-size="11.60" font-weight="normal" fill="#4e4e4e" word-spacing="-0.81" textLength="233.95" lengthAdjust="spacingAndGlyphs">start levels, with an average drop of -9%</text>
<text x="15.77" y="632.90" font-size="11.00" font-weight="normal" fill="#7e7e7e" word-spacing="-0.77" textLength="426.90" lengthAdjust="spacingAndGlyphs">*Normal = average housing starts of years 2018, 2019, 2021, 2022 and 2023</text>
</svg>
</body></html>
